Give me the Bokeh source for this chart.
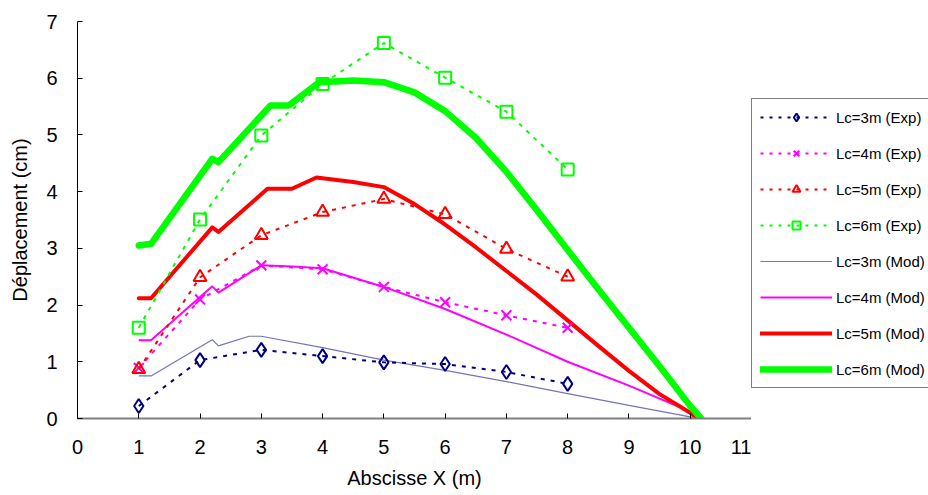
from bokeh.plotting import figure
from bokeh.layouts import row
from bokeh.models import Range1d, FixedTicker, Legend, LegendItem
from bokeh.embed import file_html
from bokeh.resources import INLINE

# ---- data ----
x_exp = [1, 2, 3, 4, 5, 6, 7, 8]
exp_lc3 = [0.22, 1.03, 1.21, 1.10, 0.99, 0.96, 0.82, 0.61]
exp_lc4 = [0.89, 2.10, 2.70, 2.63, 2.32, 2.05, 1.82, 1.60]
exp_lc5 = [0.87, 2.49, 3.23, 3.64, 3.87, 3.60, 2.99, 2.50]
exp_lc6 = [1.60, 3.51, 4.99, 5.90, 6.62, 6.01, 5.41, 4.39]

mod_x3 = [1.0, 1.2, 2.2, 2.3, 2.8, 3.0, 4.0, 5.0, 6.0, 7.0, 8.0, 9.0, 10.0, 10.05]
mod_lc3 = [0.75, 0.75, 1.39, 1.28, 1.45, 1.45, 1.25, 1.03, 0.85, 0.65, 0.44, 0.23, 0.03, 0.0]

mod_x4 = [1.0, 1.2, 2.2, 2.3, 3.0, 3.5, 4.0, 5.0, 6.0, 7.0, 8.0, 9.0, 10.0, 10.1]
mod_lc4 = [1.38, 1.38, 2.33, 2.22, 2.70, 2.68, 2.65, 2.32, 1.93, 1.48, 1.00, 0.58, 0.12, 0.0]

mod_x5 = [1.0, 1.2, 2.2, 2.3, 3.1, 3.5, 3.9, 4.5, 5.0, 5.5, 6.0, 6.5, 7.0, 7.5, 8.0, 8.5, 9.0, 9.5, 10.0, 10.12]
mod_lc5 = [2.12, 2.12, 3.37, 3.29, 4.05, 4.05, 4.25, 4.17, 4.08, 3.78, 3.42, 3.02, 2.60, 2.18, 1.73, 1.28, 0.84, 0.43, 0.10, 0.0]

mod_x6 = [1.0, 1.2, 2.2, 2.3, 3.15, 3.45, 3.95, 4.5, 5.0, 5.5, 6.0, 6.5, 7.0, 7.5, 8.0, 8.5, 9.0, 9.5, 10.0, 10.18]
mod_lc6 = [3.05, 3.08, 4.58, 4.52, 5.52, 5.52, 5.93, 5.96, 5.93, 5.75, 5.42, 4.95, 4.35, 3.67, 2.97, 2.28, 1.60, 0.92, 0.22, 0.0]

x_ticks = [0, 1, 2, 3, 4, 5, 6, 7, 8, 9, 10, 11]
y_ticks = [0, 1, 2, 3, 4, 5, 6, 7]

exp_labels = ["Lc=3m (Exp)", "Lc=4m (Exp)", "Lc=5m (Exp)", "Lc=6m (Exp)"]
mod_labels = ["Lc=3m (Mod)", "Lc=4m (Mod)", "Lc=5m (Mod)", "Lc=6m (Mod)"]

FONT = "Liberation Sans"

p = figure(width=751, height=495, output_backend="svg", toolbar_location=None,
           x_range=Range1d(0, 11), y_range=Range1d(0, 7),
           min_border_left=77, min_border_right=0, min_border_top=21, min_border_bottom=77)
p.outline_line_color = None
p.grid.visible = False
p.background_fill_color = "white"

# axes
p.xaxis.ticker = FixedTicker(ticks=x_ticks)
p.yaxis.ticker = FixedTicker(ticks=y_ticks)
p.xaxis.axis_label = "Abscisse X (m)"
p.yaxis.axis_label = "Déplacement (cm)"
for ax in (p.xaxis, p.yaxis):
    ax.axis_label_text_font = FONT
    ax.axis_label_text_font_size = "20px"
    ax.axis_label_text_font_style = "normal"
    ax.axis_label_text_color = "black"
    ax.major_label_text_font = FONT
    ax.major_label_text_font_size = "20px"
    ax.major_label_text_color = "black"
    ax.minor_tick_line_color = None
    ax.major_tick_in = 5
    ax.major_tick_out = 0
    ax.major_tick_line_color = "black"
p.xaxis.axis_line_color = "#808080"
p.xaxis.axis_line_width = 2
p.yaxis.axis_line_color = "black"
p.yaxis.axis_line_width = 1
p.xaxis.major_label_standoff = 21
p.xaxis.axis_label_standoff = 10
p.yaxis.major_label_standoff = 20
p.yaxis.axis_label_standoff = 12

# styles
mod_styles = [
    dict(line_color="#7474b8", line_width=1.2),
    dict(line_color="#ff00ff", line_width=2),
    dict(line_color="#ff0000", line_width=4, line_join="round", line_cap="round"),
    dict(line_color="#00ff00", line_width=6.5, line_join="round", line_cap="round"),
]
exp_styles = [
    ("#000080", "diamond", 14),
    ("#ff00ff", "x", 14),
    ("#ff0000", "triangle", 13),
    ("#00ff00", "square", 12),
]
mod_series = list(zip([mod_x3, mod_x4, mod_x5, mod_x6], [mod_lc3, mod_lc4, mod_lc5, mod_lc6]))
exp_series = [exp_lc3, exp_lc4, exp_lc5, exp_lc6]

# model curves
for (xs, ys), st in zip(mod_series, mod_styles):
    p.line(xs, ys, **st)

# experimental series
for vals, (col, mk, sz) in zip(exp_series, exp_styles):
    p.line(x_exp, vals, line_color=col, line_width=2, line_dash="4 6")
    p.scatter(x_exp, vals, marker=mk, size=sz, line_color=col, line_width=2, fill_color=None)

# ---- legend panel (separate figure so the box is not clipped by the plot frame) ----
# Its ranges lie far away from the data, so only the legend is visible there.
q = figure(width=177, height=495, output_backend="svg", toolbar_location=None,
           x_range=Range1d(100, 101), y_range=Range1d(100, 101),
           x_axis_type=None, y_axis_type=None,
           min_border_left=0, min_border_right=0, min_border_top=21, min_border_bottom=77)
q.outline_line_color = None
q.grid.visible = False

items = []
for vals, (col, mk, sz), lab in zip(exp_series, exp_styles, exp_labels):
    ln = q.line(x_exp, vals, line_color=col, line_width=2, line_dash="3 6")
    sc = q.scatter(x_exp, vals, marker=mk, size=sz - 1, line_color=col, line_width=2, fill_color=None)
    items.append(LegendItem(label=lab, renderers=[ln, sc]))
for (xs, ys), st, lab in zip(mod_series, mod_styles, mod_labels):
    r = q.line(xs, ys, **st)
    items.append(LegendItem(label=lab, renderers=[r]))

legend = Legend(items=items, location=(0, 30))
legend.label_text_font = FONT
legend.label_text_font_size = "15px"
legend.label_text_color = "black"
legend.glyph_width = 72
legend.glyph_height = 20
legend.label_height = 20
legend.spacing = 16
legend.padding = 8
legend.margin = 0
legend.label_standoff = 4
legend.border_line_color = "black"
legend.border_line_width = 1
legend.background_fill_color = "white"
legend.background_fill_alpha = 1
q.add_layout(legend)

layout = row(p, q)
open("out.html", "w").write(file_html(layout, INLINE))
